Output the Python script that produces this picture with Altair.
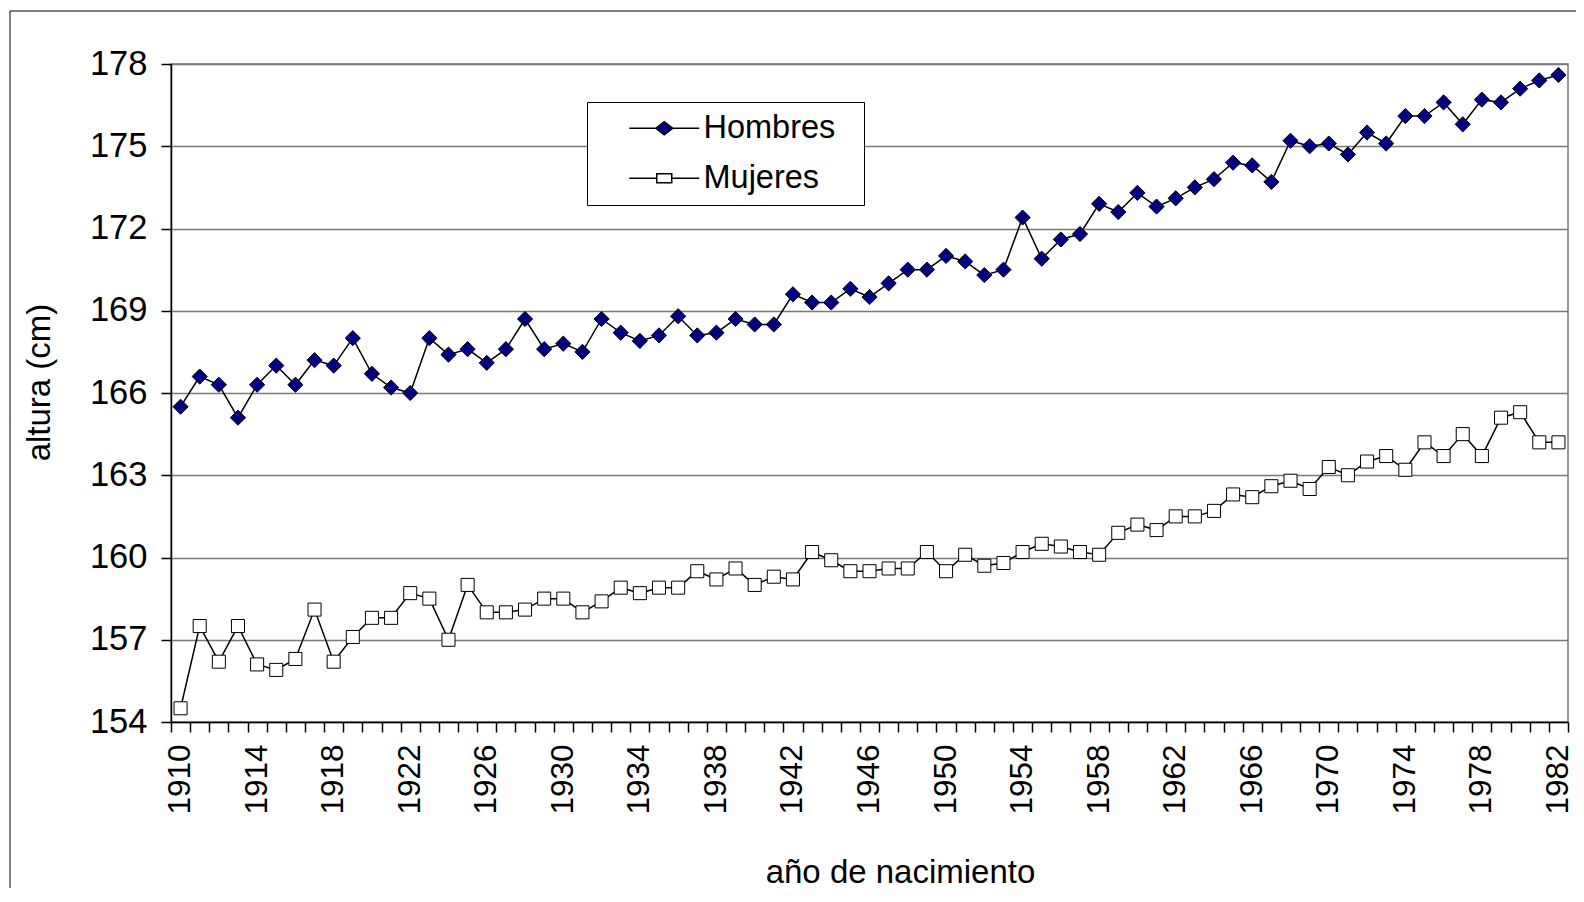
import altair as alt
import pandas as pd

years = list(range(1910, 1983))
hombres = [165.5, 166.6, 166.3, 165.1, 166.3, 167.0, 166.3, 167.2, 167.0, 168.0,
           166.7, 166.2, 166.0, 168.0, 167.4, 167.6, 167.1, 167.6, 168.7, 167.6,
           167.8, 167.5, 168.7, 168.2, 167.9, 168.1, 168.8, 168.1, 168.2, 168.7,
           168.5, 168.5, 169.6, 169.3, 169.3, 169.8, 169.5, 170.0, 170.5, 170.5,
           171.0, 170.8, 170.3, 170.5, 172.4, 170.9, 171.6, 171.8, 172.9, 172.6,
           173.3, 172.8, 173.1, 173.5, 173.8, 174.4, 174.3, 173.7, 175.2, 175.0,
           175.1, 174.7, 175.5, 175.1, 176.1, 176.1, 176.6, 175.8, 176.7, 176.6,
           177.1, 177.4, 177.6]
mujeres = [154.5, 157.5, 156.2, 157.5, 156.1, 155.9, 156.3, 158.1, 156.2, 157.1,
           157.8, 157.8, 158.7, 158.5, 157.0, 159.0, 158.0, 158.0, 158.1, 158.5,
           158.5, 158.0, 158.4, 158.9, 158.7, 158.9, 158.9, 159.5, 159.2, 159.6,
           159.0, 159.3, 159.2, 160.2, 159.9, 159.5, 159.5, 159.6, 159.6, 160.2,
           159.5, 160.1, 159.7, 159.8, 160.2, 160.5, 160.4, 160.2, 160.1, 160.9,
           161.2, 161.0, 161.5, 161.5, 161.7, 162.3, 162.2, 162.6, 162.8, 162.5,
           163.3, 163.0, 163.5, 163.7, 163.2, 164.2, 163.7, 164.5, 163.7, 165.1,
           165.3, 164.2, 164.2]
series = ["Hombres", "Mujeres"]
y_ticks = [154, 157, 160, 163, 166, 169, 172, 175, 178]
label_years = years[::4]

df = pd.DataFrame({
    "year": years * 2,
    "altura": hombres + mujeres,
    "serie": [series[0]] * len(years) + [series[1]] * len(years),
})

boundaries = [y - 0.5 for y in years] + [years[-1] + 0.5]
x_values = boundaries + label_years

FONT = "Liberation Sans"
W, H = 1397, 658

x_enc = alt.X(
    "year:Q",
    scale=alt.Scale(domain=[years[0] - 0.5, years[-1] + 0.5], nice=False, zero=False),
    axis=alt.Axis(
        title="año de nacimiento",
        values=x_values,
        labelExpr="datum.value % 1 == 0 ? toString(datum.value) : ''",
        labelAngle=270, labelAlign="right", labelBaseline="middle",
        labelOverlap=False, labelFlush=False,
        labelFontSize=31.5, labelColor="black", labelPadding=12,
        tickSize=10, tickColor="black", tickWidth=1.5,
        tickOpacity={"condition": {"test": "datum.value % 1 == 0", "value": 0}, "value": 1},
        domainColor="black", domainWidth=1.5,
        grid=False,
        titleFontSize=33, titleFontWeight="normal", titleColor="black",
        titleX=729, titleY=150, titleAlign="center", titleBaseline="middle",
    ),
)
y_enc = alt.Y(
    "altura:Q",
    scale=alt.Scale(domain=[154, 178], nice=False, zero=False),
    axis=alt.Axis(
        title="altura (cm)",
        values=y_ticks,
        labelFontSize=34.5, labelColor="black", labelPadding=14,
        tickSize=10, tickColor="black", tickWidth=1.5,
        domainColor="black", domainWidth=1.5,
        grid=True, gridColor="#7a7a7a", gridWidth=1.5,
        titleFontSize=33, titleFontWeight="normal", titleColor="black",
        titleAngle=270, titleX=-132, titleY=318, titleAlign="center", titleBaseline="middle",
    ),
)

base = alt.Chart(df)

line = base.mark_line(color="black", strokeWidth=1.5).encode(
    x=x_enc, y=y_enc, detail="serie:N"
)
pts_h = base.transform_filter(alt.datum.serie == series[0]).mark_point(
    shape="diamond", size=230, filled=True, fill="#000080",
    stroke="black", strokeWidth=1, opacity=1
).encode(x=x_enc, y=y_enc)
pts_m = base.transform_filter(alt.datum.serie == series[1]).mark_point(
    shape="square", size=170, filled=True, fill="white",
    stroke="black", strokeWidth=1, opacity=1
).encode(x=x_enc, y=y_enc)

# legend symbols: line segment with the series marker in the middle
path_h = "M-2.917,0H-0.708M0.708,0H2.917M-0.708,0L0,-0.54L0.708,0L0,0.54Z"
path_m = "M-2.917,0H-0.625M0.625,0H2.917M-0.625,-0.375H0.625V0.375H-0.625Z"

leg = alt.Legend(
    title=".", titleOrient="right", titleOpacity=0, titleFontSize=32, titlePadding=10,
    orient="none", legendX=416, legendY=38,
    labelFontSize=32.5, labelColor="black", labelFont=FONT,
    symbolSize=576, symbolStrokeWidth=1.5, symbolStrokeColor="black",
    symbolOffset=51, labelOffset=23, rowPadding=17,
    padding=10, strokeColor="black", fillColor="white",
)
legend_layer = base.transform_filter("false").mark_point(
    filled=True, stroke="black", strokeWidth=1.5, opacity=1
).encode(
    x=x_enc, y=y_enc,
    shape=alt.Shape("serie:N", scale=alt.Scale(domain=series, range=[path_h, path_m]), legend=leg),
    fill=alt.Fill("serie:N", scale=alt.Scale(domain=series, range=["#000080", "white"]), legend=leg),
    stroke=alt.Stroke("serie:N", scale=alt.Scale(domain=series, range=["black", "black"]), legend=leg),
)

frame_data = alt.Data(values=[{"k": 1}])
frame_left = alt.Chart(frame_data).mark_rule(color="black", strokeWidth=1).encode(
    x=alt.value(-161), y=alt.value(-53), y2=alt.value(840)
)
frame_top = alt.Chart(frame_data).mark_rule(color="black", strokeWidth=1).encode(
    x=alt.value(-161), x2=alt.value(W + 20), y=alt.value(-53)
)

chart = alt.layer(line, pts_m, pts_h, legend_layer, frame_left, frame_top).properties(
    width=W, height=H,
    autosize=alt.AutoSizeParams(type="none"),
    padding={"left": 163, "top": 56, "right": 8, "bottom": 166},
    background="white",
).configure(font=FONT).configure_view(stroke="#7a7a7a", strokeWidth=1.5)

chart.save("out.html", embed_options={"renderer": "svg", "actions": False})
